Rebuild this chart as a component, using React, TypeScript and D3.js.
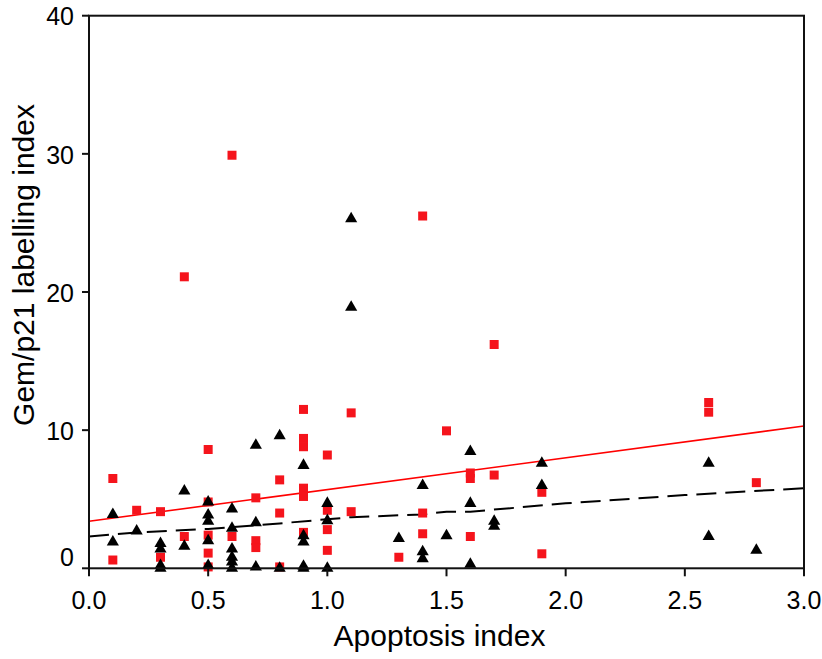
import React from "react";
import * as d3 from "d3";

// Gem (red squares)
const gemX = [0.1, 0.1, 0.2, 0.3, 0.3, 0.4, 0.4, 0.5, 0.5, 0.5, 0.5, 0.5, 0.6, 0.6, 0.7, 0.7, 0.7, 0.8, 0.8, 0.8,
  0.9, 0.9, 0.9, 0.9, 0.9, 0.9, 1.0, 1.0, 1.0, 1.0, 1.1, 1.1, 1.3, 1.4, 1.4, 1.4, 1.5, 1.6, 1.6, 1.6, 1.7, 1.7,
  1.9, 1.9, 2.6, 2.6, 2.8];
const gemY = [6.5, 0.6, 4.2, 4.1, 0.8, 21.1, 2.3, 8.6, 4.8, 2.4, 1.1, 0.1, 29.9, 2.3, 5.1, 2.0, 1.5, 6.4, 4.0, 0.1,
  11.5, 9.4, 8.8, 5.8, 5.2, 2.6, 8.2, 4.2, 2.8, 1.3, 11.25, 4.1, 0.8, 25.5, 4.0, 2.5, 9.95, 6.9, 6.5, 2.3, 16.2, 6.75,
  5.5, 1.05, 12.0, 11.3, 6.2];

// p21 (black triangles)
const p21X = [0.1, 0.1, 0.2, 0.3, 0.3, 0.3, 0.3, 0.4, 0.4, 0.5, 0.5, 0.5, 0.5, 0.5, 0.6, 0.6, 0.6, 0.6, 0.6, 0.6,
  0.7, 0.7, 0.7, 0.8, 0.8, 0.9, 0.9, 0.9, 0.9, 0.9, 1.0, 1.0, 1.0, 1.1, 1.1, 1.3, 1.4, 1.4, 1.4, 1.5, 1.6, 1.6, 1.6,
  1.7, 1.7, 1.9, 1.9, 2.6, 2.6, 2.8];
const p21Y = [3.9, 1.9, 2.7, 1.8, 1.4, 0.2, 0.0, 5.6, 1.6, 4.8, 3.85, 3.4, 2.0, 0.2, 4.3, 2.9, 1.4, 0.8, 0.45, 0.0,
  8.9, 3.3, 0.1, 9.6, 0.0, 7.45, 2.35, 1.9, 0.15, 0.0, 4.7, 3.45, 0.0, 25.3, 18.9, 2.15, 6.0, 1.2, 0.7, 2.35, 8.45, 4.7, 0.3,
  3.4, 3.05, 7.6, 6.0, 7.6, 2.3, 1.3];

// Fit lines
const gemFitX = [0, 3];
const gemFitY = [3.4, 10.3];
const p21FitX = [0, 0.2, 0.5, 0.8, 1.1, 1.4, 1.5, 1.6, 2.0, 2.5, 3.0];
const p21FitY = [2.3, 2.6, 2.85, 3.25, 3.7, 3.9, 4.1, 4.1, 4.7, 5.3, 5.8];

const xTicks = [0, 0.5, 1.0, 1.5, 2.0, 2.5, 3.0];
const yTicks = [0, 10, 20, 30, 40];

const W = 822, H = 659;
const L = 89, R = 804, T = 15.7, B = 568.3;
const FONT = "'Liberation Sans', Arial, Helvetica, sans-serif";

export default function App() {
  const x = d3.scaleLinear().domain([0, 3]).range([L, R]);
  const y = d3.scaleLinear().domain([0, 40]).range([B, T]);
  const line = d3.line<[number, number]>().x(d => x(d[0])).y(d => y(d[1]));
  const tri = d3.symbol().type(d3.symbolTriangle).size(64)() as string;
  const sq = d3.symbol().type(d3.symbolSquare).size(81)() as string;
  const gemFit = gemFitX.map((v, i) => [v, gemFitY[i]] as [number, number]);
  const p21Fit = p21FitX.map((v, i) => [v, p21FitY[i]] as [number, number]);

  return (
    <svg width={W} height={H} style={{ position: "absolute", left: 0, top: 0, background: "#fff" }}
      fontFamily={FONT}>
      <rect x={0} y={0} width={W} height={H} fill="#fff" />
      {/* fit lines */}
      <path d={line(p21Fit) as string} fill="none" stroke="#000" strokeWidth={2} strokeDasharray="20,9" />
      <path d={line(gemFit) as string} fill="none" stroke="#ff0000" strokeWidth={1.6} />
      {/* points */}
      {gemX.map((v, i) => (
        <path key={"g" + i} d={sq} transform={`translate(${x(v)},${y(gemY[i])})`} fill="#f5141c" />
      ))}
      {p21X.map((v, i) => (
        <path key={"p" + i} d={tri} transform={`translate(${x(v)},${y(p21Y[i])})`} fill="#000" />
      ))}
      {/* frame */}
      <rect x={L} y={T} width={R - L} height={B - T} fill="none" stroke="#111" strokeWidth={2} />
      {/* x ticks */}
      {xTicks.map(t => (
        <g key={"xt" + t}>
          <line x1={x(t)} x2={x(t)} y1={B} y2={B + 8} stroke="#111" strokeWidth={2} />
          <text x={x(t)} y={609} textAnchor="middle" fontSize={25} fill="#000">{t.toFixed(1)}</text>
        </g>
      ))}
      {/* y ticks */}
      {yTicks.map(t => (
        <g key={"yt" + t}>
          <line x1={L - 7} x2={L} y1={y(t)} y2={y(t)} stroke="#111" strokeWidth={2} />
          <text x={74} y={t === 0 ? 557 : y(t) + 1} dy="0.35em" textAnchor="end" fontSize={25} fill="#000">{t}</text>
        </g>
      ))}
      <text x={(L + R) / 2 - 7} y={646} textAnchor="middle" fontSize={30} fill="#000">Apoptosis index</text>
      <text transform={`translate(34,265) rotate(-90)`} textAnchor="middle" fontSize={30} fill="#000">
        Gem/p21 labelling index
      </text>
    </svg>
  );
}
